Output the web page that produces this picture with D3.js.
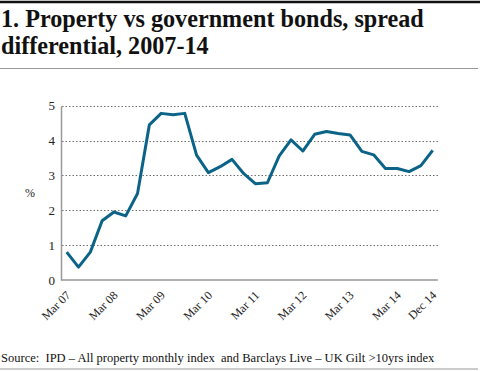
<!DOCTYPE html>
<html><head><meta charset="utf-8">
<script src="https://cdn.jsdelivr.net/npm/d3@7"></script>
<style>body{margin:0;background:#fff}svg{display:block}text{white-space:pre}</style>
</head><body>
<svg id="c" width="480" height="371"></svg>
<script>
const titleLines = ["1. Property vs government bonds, spread", "differential, 2007-14"];
const sourceText = "Source:  IPD \u2013 All property monthly index  and Barclays Live \u2013 UK Gilt >10yrs index";
const quarters = ["Mar 07","Jun 07","Sep 07","Dec 07","Mar 08","Jun 08","Sep 08","Dec 08","Mar 09","Jun 09","Sep 09","Dec 09","Mar 10","Jun 10","Sep 10","Dec 10","Mar 11","Jun 11","Sep 11","Dec 11","Mar 12","Jun 12","Sep 12","Dec 12","Mar 13","Jun 13","Sep 13","Dec 13","Mar 14","Jun 14","Sep 14","Dec 14"];
const spread = [0.80,0.37,0.80,1.70,1.95,1.84,2.48,4.45,4.78,4.74,4.78,3.58,3.08,3.25,3.46,3.05,2.76,2.79,3.56,4.02,3.70,4.18,4.26,4.20,4.16,3.69,3.59,3.20,3.20,3.11,3.28,3.72];
const tickLabels = ["Mar 07","Mar 08","Mar 09","Mar 10","Mar 11","Mar 12","Mar 13","Mar 14","Dec 14"];
const yTicks = [0,1,2,3,4,5];

const svg = d3.select("#c");
const serif = "'Liberation Serif','DejaVu Serif',serif";

svg.append("line").attr("x1",0).attr("x2",480).attr("y1",2).attr("y2",2).attr("stroke","#111").attr("stroke-width",2.5);
const tl = svg.selectAll("text.title").data(titleLines).join("text")
  .attr("class","title").attr("x",1).attr("y",(d,i)=>27+i*26.5)
  .attr("font-family",serif).attr("font-weight","bold").attr("font-size",24).attr("fill","#111").text(d=>d);
const w0 = tl.nodes()[0].getComputedTextLength();
tl.attr("font-size", 24*423/w0);
svg.append("line").attr("x1",0).attr("x2",478).attr("y1",68.5).attr("y2",68.5).attr("stroke","#999").attr("stroke-width",1);

const x = d3.scaleLinear().domain([0, quarters.length-1]).range([66.7, 432.7]);
const y = d3.scaleLinear().domain([0,5]).range([280, 105.7]);

const grid = svg.append("g").attr("class","grid");
yTicks.filter(d=>d>0).forEach(d=>{
  grid.append("path")
    .attr("d", `M62,${Math.round(y(d))+0.5}H438`)
    .attr("fill","none").attr("stroke","#707070").attr("stroke-width",1.2).attr("stroke-dasharray","1.5,2");
});

const ya = svg.append("g").attr("transform","translate(61,0)")
  .call(d3.axisLeft(y).tickValues(yTicks).tickFormat(d3.format("d")).tickSize(0).tickPadding(6));
ya.select(".domain").attr("stroke","#999").attr("stroke-width",1.5);
ya.selectAll("text").attr("font-family",serif).attr("font-size",13).attr("fill","#222");

const xa = svg.append("g").attr("transform","translate(0,280)")
  .call(d3.axisBottom(x).tickValues(tickLabels.map(t=>quarters.indexOf(t))).tickFormat(i=>quarters[i]).tickSize(0));
xa.select(".domain").attr("d","M61,0H438").attr("stroke","#999").attr("stroke-width",1.5);
xa.selectAll("text").attr("font-family",serif).attr("font-size",12).attr("fill","#222")
  .attr("text-anchor","end").attr("dy",0).attr("y",0)
  .attr("transform","translate(4,16) rotate(-45)");

svg.append("text").attr("x",30).attr("y",197).attr("text-anchor","middle")
  .attr("font-family",serif).attr("font-size",12).attr("fill","#222").text("%");

svg.append("path").datum(spread)
  .attr("d", d3.line().x((d,i)=>x(i)).y(d=>y(d)))
  .attr("fill","none").attr("stroke","#0b6487").attr("stroke-width",3).attr("stroke-linejoin","round");

const st = svg.append("text").attr("x",1).attr("y",362).attr("font-family",serif).attr("font-size",13).attr("fill","#111").text(sourceText);
const sw = st.node().getComputedTextLength();
st.attr("font-size", 13*434/sw);
svg.append("line").attr("x1",0).attr("x2",478).attr("y1",369).attr("y2",369).attr("stroke","#999").attr("stroke-width",1);
</script>
</body></html>
